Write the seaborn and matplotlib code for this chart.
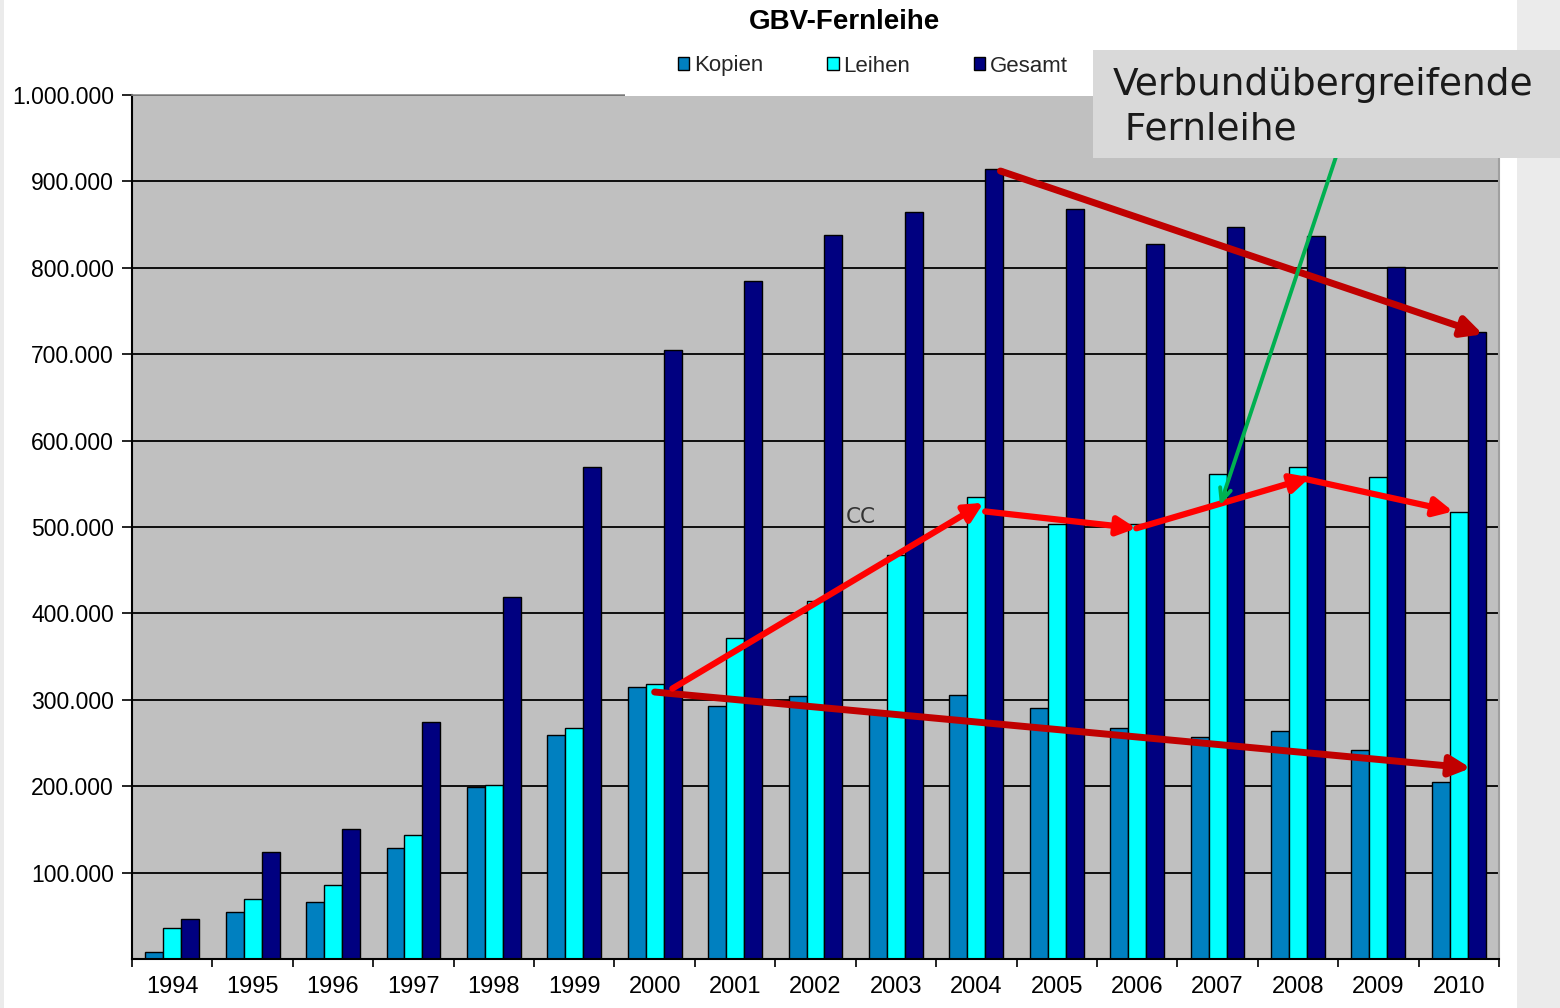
import matplotlib
matplotlib.use("Agg")
import matplotlib.pyplot as plt
import matplotlib.ticker as mticker
from matplotlib.patches import Patch, Rectangle
import seaborn as sns
import pandas as pd

# ---- data ----
years = [str(y) for y in range(1994, 2011)]
kopien = [7700, 54000, 65500, 128000, 199000, 259000, 314500, 293000, 304500,
          287000, 305000, 290000, 267000, 257500, 263500, 241500, 205000]
leihen = [36000, 69500, 85500, 143000, 201000, 267000, 318500, 372000, 414000,
          467500, 534500, 503000, 504000, 561500, 570000, 557500, 517500]
gesamt = [46400, 124000, 150000, 274000, 418500, 569000, 705000, 785000, 838500,
          865000, 914000, 868500, 827500, 847000, 837000, 801000, 725500]
series = ["Kopien", "Leihen", "Gesamt"]
colors = ["#0080c0", "#00ffff", "#000080"]
yticks = [100000 * i for i in range(1, 11)]

# annotation arrows (data coords: category index, value)
darkred_arrows = [((10.30, 912000), (16.30, 723000)),
                  ((6.00, 309000), (16.15, 221000))]
red_arrows = [((6.22, 313000), (10.09, 528000)),
              ((10.11, 518000), (11.99, 498500)),
              ((11.99, 498500), (14.15, 557500)),
              ((14.07, 556000), (15.93, 518000))]
green_arrow = ((14.48, 930500), (13.03, 525000))

df = pd.DataFrame({
    "Jahr": years * 3,
    "Wert": kopien + leihen + gesamt,
    "Serie": [s for s in series for _ in years],
})

sns.set_style("white")
plt.rcParams["font.family"] = ["Liberation Sans", "DejaVu Sans"]

fig = plt.figure(figsize=(15.6, 10.08), dpi=100)
fig.patch.set_facecolor("white")
ax = fig.add_axes([132 / 1560, 1 - 959 / 1008, (1499 - 132) / 1560, (959 - 95) / 1008])
ax.set_facecolor("#c0c0c0")

sns.barplot(data=df, x="Jahr", y="Wert", hue="Serie", palette=colors,
            hue_order=series, width=0.67, gap=0, edgecolor="black",
            linewidth=1, legend=False, ax=ax, zorder=2, saturation=1)

ax.set_ylim(0, 1000000)
ax.set_xlim(-0.5, len(years) - 0.5)
ax.set_yticks(yticks)
ax.yaxis.set_major_formatter(mticker.FuncFormatter(lambda v, p: f"{int(v):,}".replace(",", ".")))
ax.yaxis.grid(True, color="black", linewidth=1.3, zorder=1)
ax.set_axisbelow(True)
ax.set_xlabel("")
ax.set_ylabel("")
ax.tick_params(axis="y", direction="out", length=7, width=1.2, color="black",
               labelsize=16.5, pad=6, left=True)
ax.tick_params(axis="x", which="major", length=0, labelsize=17, pad=12)
ax.set_xticks([i + 0.5 for i in range(-1, len(years))], minor=True)
ax.tick_params(axis="x", which="minor", direction="out", length=6, width=1.2,
               color="black", bottom=True)
for lab in ax.get_yticklabels() + ax.get_xticklabels():
    lab.set_color("black")

ax.spines["left"].set_color("black")
ax.spines["left"].set_linewidth(1.5)
ax.spines["bottom"].set_color("black")
ax.spines["bottom"].set_linewidth(1.5)
ax.spines["top"].set_color("#8c8c8c")
ax.spines["top"].set_linewidth(1.2)
ax.spines["right"].set_color("#a0a0a0")
ax.spines["right"].set_linewidth(1.5)

# arrows
for (s, e) in darkred_arrows:
    ax.annotate("", xy=e, xytext=s, annotation_clip=False, zorder=6,
                arrowprops=dict(arrowstyle="-|>,head_length=1.2,head_width=0.6",
                                color="#c00000", lw=5, shrinkA=0, shrinkB=0))
for (s, e) in red_arrows:
    ax.annotate("", xy=e, xytext=s, annotation_clip=False, zorder=7,
                arrowprops=dict(arrowstyle="-|>,head_length=1.1,head_width=0.55",
                                color="#ff0000", lw=4.5, shrinkA=0, shrinkB=0))
ax.annotate("", xy=green_arrow[1], xytext=green_arrow[0], annotation_clip=False, zorder=8,
            arrowprops=dict(arrowstyle="->,head_length=0.9,head_width=0.4",
                            color="#00b050", lw=2.8, shrinkA=0, shrinkB=0))

ax.text(8.37, 511000, "CC", fontsize=15.5, color="#333333", ha="left", va="center",
        family=["DejaVu Sans"], zorder=9)

# figure decorations
fig.add_artist(Rectangle((0, 0), 4 / 1560, 1, transform=fig.transFigure,
                         facecolor="#ebebeb", edgecolor="none", zorder=-1))
fig.add_artist(Rectangle((1517 / 1560, 0), 1 - 1517 / 1560, 1, transform=fig.transFigure,
                         facecolor="#ebebeb", edgecolor="none", zorder=-1))
fig.add_artist(Rectangle((625 / 1560, 1 - 95.5 / 1008), (1093 - 625) / 1560, 46 / 1008,
                         transform=fig.transFigure, facecolor="white",
                         edgecolor="none", zorder=5))
fig.add_artist(Rectangle((1093 / 1560, 1 - 158 / 1008), 1 - 1093 / 1560, 108 / 1008,
                         transform=fig.transFigure, facecolor="#d9d9d9",
                         edgecolor="none", zorder=10))
fig.text(1113 / 1560, 1 - 85 / 1008, "Verbundübergreifende", fontsize=27,
         family=["DejaVu Sans"], color="#1a1a1a", ha="left", va="center", zorder=11)
fig.text(1113 / 1560, 1 - 130 / 1008, " Fernleihe", fontsize=27,
         family=["DejaVu Sans"], color="#1a1a1a", ha="left", va="center", zorder=11)

fig.text(845 / 1560, 1 - 22 / 1008, "GBV-Fernleihe", fontsize=20, fontweight="bold",
         ha="center", va="center", color="black")

handles = [Patch(facecolor=c, edgecolor="black", linewidth=1) for c in colors]
leg = fig.legend(handles, series, loc="center", bbox_to_anchor=(873 / 1560, 1 - 66 / 1008),
                 ncol=3, frameon=False, fontsize=16, handlelength=0.5, handleheight=0.5,
                 handletextpad=0.2, columnspacing=2.9)
leg.set_zorder(12)

fig.savefig("out.png", dpi=100, facecolor=fig.get_facecolor())
